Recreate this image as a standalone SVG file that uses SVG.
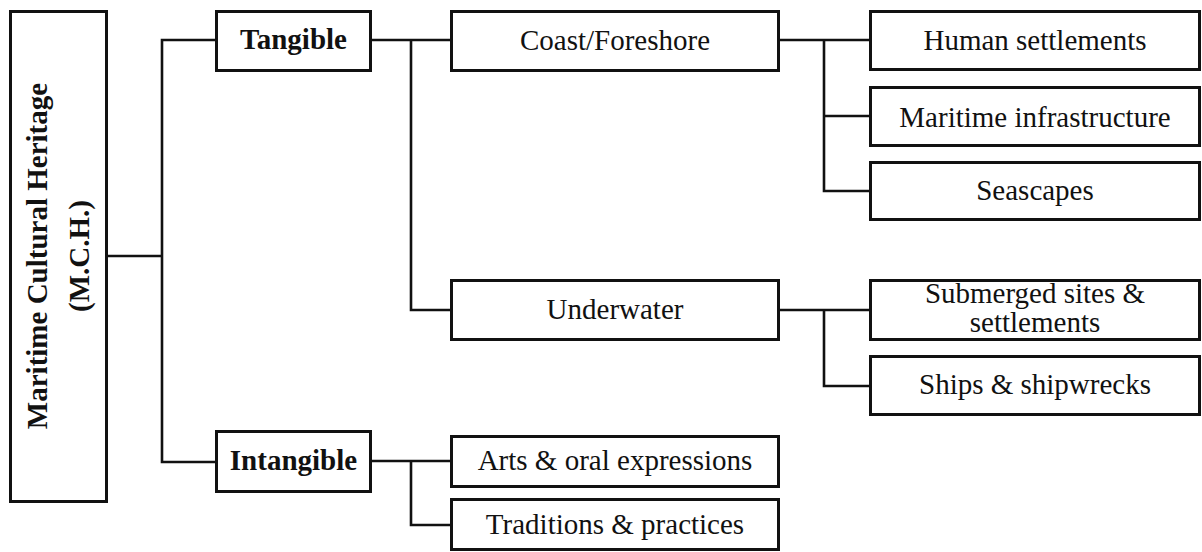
<svg xmlns="http://www.w3.org/2000/svg" width="1202" height="552" viewBox="0 0 1202 552">
<style>
.box{fill:#fff;stroke:#111;stroke-width:3}
.ln{fill:none;stroke:#111;stroke-width:2.6;stroke-linejoin:miter;stroke-linecap:square}
.t{font-family:"Liberation Serif","Times New Roman",serif;font-size:29px;fill:#111;text-anchor:middle}
.b{font-weight:bold}
</style>
<rect width="1202" height="552" fill="#fff"/>
<g id="connectors">
<path class="ln" d="M107,256 H162 M162,40 V462 M162,40 H216 M162,462 H216"/>
<path class="ln" d="M371,40 H451 M411,40 V310 H451"/>
<path class="ln" d="M779,40 H870 M824,40 V191 H870 M824,116 H870"/>
<path class="ln" d="M779,310 H870 M824,310 V386 H870"/>
<path class="ln" d="M371,461 H451 M411,461 V525 H451"/>
</g>
<g id="mch">
<rect class="box" x="10.5" y="11.5" width="96" height="490"/>
<text class="t b" transform="translate(47,256) rotate(-90)">Maritime Cultural Heritage</text>
<text class="t b" transform="translate(89,256) rotate(-90)">(M.C.H.)</text>
</g>
<g id="tangible">
<rect class="box" x="216.5" y="11.5" width="154" height="59"/>
<text class="t b" x="293.5" y="49">Tangible</text>
</g>
<g id="intangible">
<rect class="box" x="216.5" y="431.5" width="154" height="60"/>
<text class="t b" x="293.5" y="470">Intangible</text>
</g>
<g id="coast">
<rect class="box" x="451.5" y="11.5" width="327" height="59"/>
<text class="t" x="615" y="50">Coast/Foreshore</text>
</g>
<g id="underwater">
<rect class="box" x="451.5" y="280.5" width="327" height="59"/>
<text class="t" x="615" y="319">Underwater</text>
</g>
<g id="arts">
<rect class="box" x="451.5" y="436.5" width="327" height="50"/>
<text class="t" x="615" y="470">Arts &amp; oral expressions</text>
</g>
<g id="traditions">
<rect class="box" x="451.5" y="499.5" width="327" height="50"/>
<text class="t" x="615" y="534">Traditions &amp; practices</text>
</g>
<g id="human">
<rect class="box" x="870.5" y="11.5" width="329" height="58"/>
<text class="t" x="1035" y="50">Human settlements</text>
</g>
<g id="infrastructure">
<rect class="box" x="870.5" y="87.5" width="329" height="58"/>
<text class="t" x="1035" y="127">Maritime infrastructure</text>
</g>
<g id="seascapes">
<rect class="box" x="870.5" y="162.5" width="329" height="57"/>
<text class="t" x="1035" y="200">Seascapes</text>
</g>
<g id="submerged">
<rect class="box" x="870.5" y="280.5" width="329" height="59"/>
<text class="t" x="1035" y="303">Submerged sites &amp;</text>
<text class="t" x="1035" y="332">settlements</text>
</g>
<g id="ships">
<rect class="box" x="870.5" y="356.5" width="329" height="58"/>
<text class="t" x="1035" y="394">Ships &amp; shipwrecks</text>
</g>
</svg>
